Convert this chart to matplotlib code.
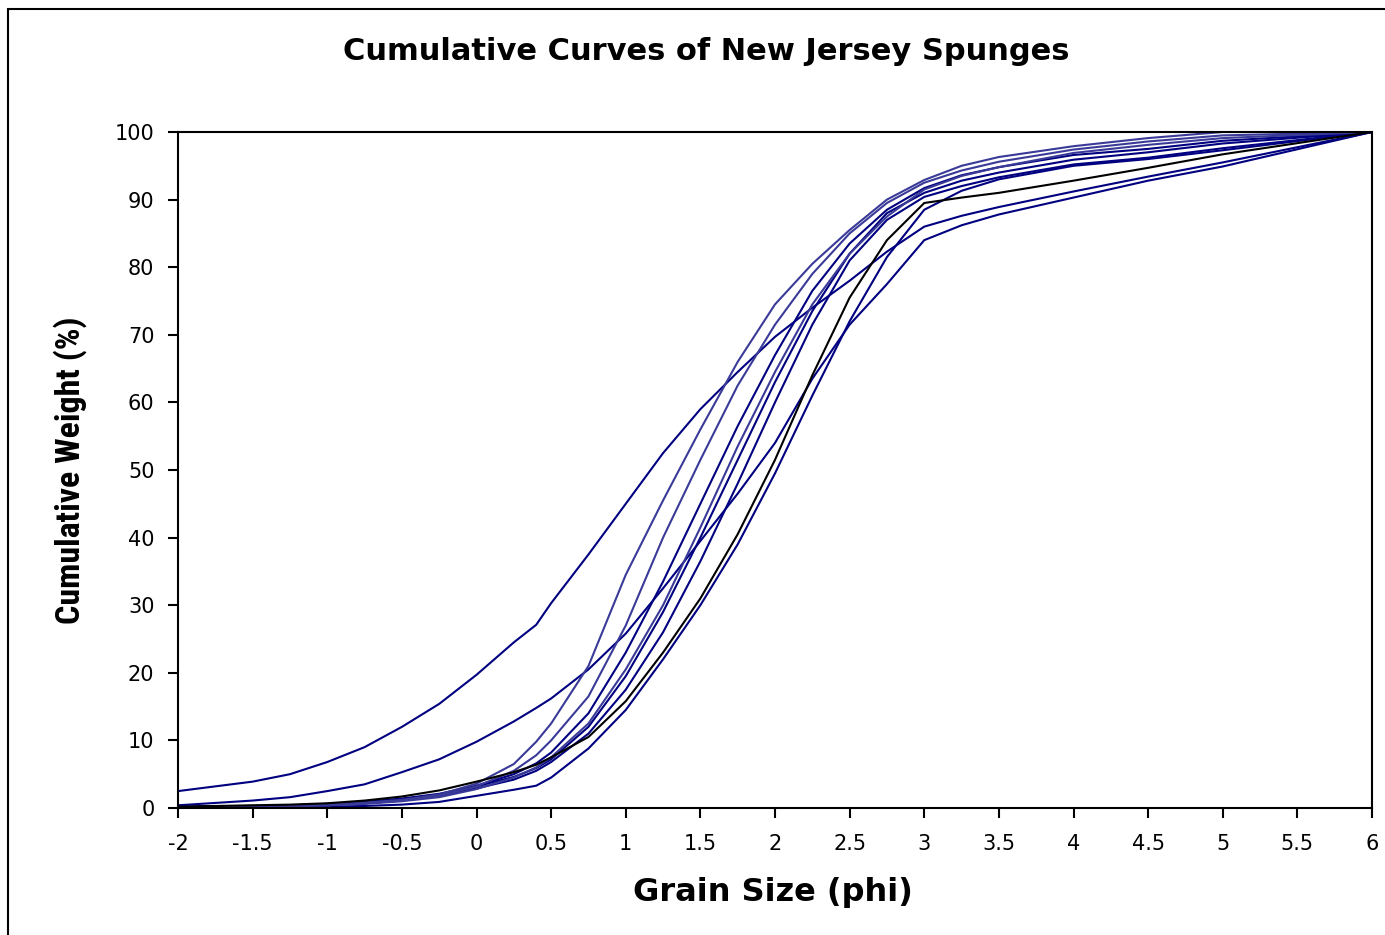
import matplotlib
matplotlib.use("Agg")
import matplotlib.pyplot as plt
from matplotlib.patches import Rectangle
from matplotlib.ticker import FuncFormatter, MultipleLocator

# Grain size grid (phi)
phi = [-2, -1.5, -1.25, -1, -0.75, -0.5, -0.25, 0, 0.25, 0.4, 0.5, 0.75, 1,
       1.25, 1.5, 1.75, 2, 2.25, 2.5, 2.75, 3, 3.25, 3.5, 4, 4.5, 5, 6]

# Cumulative weight (%) for each sample
sample_a = [2.5, 3.9, 5.0, 6.8, 9.0, 12.0, 15.4, 19.7, 24.5, 27.1, 30.3, 37.5, 45.0,
            52.5, 59.0, 64.5, 69.7, 74.0, 78.0, 82.3, 86.0, 87.6, 88.9, 91.2, 93.4, 95.5, 100]
sample_b = [0.4, 1.1, 1.6, 2.5, 3.5, 5.3, 7.2, 9.8, 12.8, 14.8, 16.2, 20.5, 25.8,
            32.5, 39.5, 46.5, 54.0, 63.5, 71.5, 77.5, 84.0, 86.2, 87.8, 90.3, 92.8, 94.9, 100]
sample_c = [0.1, 0.2, 0.3, 0.5, 0.8, 1.2, 2.0, 3.6, 6.5, 9.8, 12.5, 21.0, 34.5,
            45.5, 56.0, 66.0, 74.5, 80.5, 85.5, 90.0, 92.9, 95.0, 96.3, 97.9, 99.1, 100, 100]
sample_d = [0.1, 0.2, 0.3, 0.4, 0.7, 1.1, 1.8, 3.2, 5.5, 7.8, 10.0, 16.5, 27.0,
            40.0, 51.5, 62.5, 71.5, 79.0, 85.0, 89.5, 92.5, 94.3, 95.6, 97.4, 98.6, 99.5, 100]
sample_e = [0.1, 0.2, 0.3, 0.4, 0.6, 1.0, 1.6, 2.8, 4.5, 6.0, 7.5, 12.5, 20.5,
            30.0, 41.5, 53.5, 64.5, 74.5, 82.0, 87.5, 91.5, 93.5, 94.8, 96.9, 98.1, 99.1, 100]
sample_f = [0.2, 0.3, 0.4, 0.6, 0.9, 1.4, 2.1, 3.3, 5.0, 6.6, 8.2, 14.0, 23.0,
            33.5, 45.0, 56.5, 67.0, 76.5, 83.5, 88.5, 91.7, 93.6, 94.8, 96.6, 97.5, 98.7, 100]
sample_g = [0.2, 0.3, 0.4, 0.6, 0.9, 1.3, 2.0, 3.2, 4.6, 5.9, 7.2, 12.0, 19.5,
            29.0, 40.0, 51.5, 63.0, 73.5, 82.0, 88.0, 91.0, 92.8, 94.0, 95.9, 97.0, 98.3, 100]
sample_h = [0.1, 0.2, 0.3, 0.5, 0.7, 1.1, 1.8, 2.9, 4.2, 5.5, 6.8, 11.0, 17.5,
            26.0, 36.5, 48.0, 60.0, 71.5, 81.0, 87.0, 90.4, 92.0, 93.3, 95.2, 96.2, 97.6, 100]
sample_l = [0.0, 0.1, 0.1, 0.2, 0.3, 0.5, 0.9, 1.8, 2.7, 3.3, 4.5, 8.8, 14.5,
            22.0, 30.0, 39.0, 49.5, 61.0, 72.0, 81.5, 88.5, 91.3, 93.0, 95.0, 96.0, 97.3, 100]
sample_k = [0.2, 0.4, 0.5, 0.7, 1.1, 1.7, 2.6, 3.9, 5.3, 6.4, 7.5, 10.5, 15.8,
            23.0, 31.0, 40.5, 51.5, 64.0, 75.5, 84.0, 89.5, 90.3, 91.0, 92.8, 94.7, 96.7, 100]

NAVY = "#000080"
LIGHT = "#3a3a98"
series = [
    (sample_a, NAVY), (sample_b, NAVY), (sample_f, NAVY), (sample_g, NAVY),
    (sample_h, NAVY), (sample_l, NAVY), (sample_c, LIGHT), (sample_d, LIGHT),
    (sample_e, LIGHT), (sample_k, "#000000"),
]

plt.rcParams['font.family'] = ['DejaVu Sans']

fig = plt.figure(figsize=(13.85, 9.35), dpi=100)
ax = fig.add_axes([178 / 1385, 1 - 808 / 935, (1372 - 178) / 1385, (808 - 132) / 935])

for vals, col in series:
    ax.plot(phi, vals, color=col, lw=1.5, solid_joinstyle='round')

ax.set_xlim(-2, 6)
ax.set_ylim(0, 100)
ax.xaxis.set_major_locator(MultipleLocator(0.5))
ax.yaxis.set_major_locator(MultipleLocator(10))
ax.xaxis.set_major_formatter(FuncFormatter(lambda v, p: ("%g" % v)))
ax.yaxis.set_major_formatter(FuncFormatter(lambda v, p: ("%g" % v)))
ax.tick_params(axis='both', direction='out', length=7, width=1.5, labelsize=15,
               color='black')
ax.tick_params(axis='x', pad=12)
ax.tick_params(axis='y', pad=10)
for s in ax.spines.values():
    s.set_linewidth(1.5)
    s.set_color('black')

fig.text(773 / 1385, 1 - 893 / 935, "Grain Size (phi)", ha='center', va='center',
         fontsize=23, fontweight='bold')
fig.text(70 / 1385, 1 - 470 / 935, "Cumulative Weight (%)", ha='center', va='center',
         rotation=90, fontsize=24.5, fontweight='bold', fontstretch='condensed',
         family=['Roboto Condensed', 'Liberation Sans Narrow', 'Liberation Sans', 'DejaVu Sans'])
fig.text(706 / 1385, 1 - 52 / 935, "Cumulative Curves of New Jersey Spunges",
         ha='center', va='center', fontsize=22, fontweight='bold')

# Outer chart border (continues beyond the image at right and bottom)
fig.patches.append(Rectangle((8 / 1385, -0.05), 1.2, 1 - 9 / 935 + 0.05,
                             transform=fig.transFigure, fill=False,
                             edgecolor='black', linewidth=1.5))

fig.savefig("out.png", dpi=100)
